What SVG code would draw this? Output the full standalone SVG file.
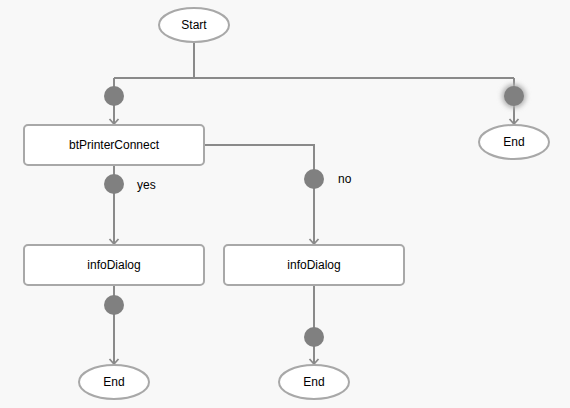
<svg xmlns="http://www.w3.org/2000/svg" width="570" height="408" viewBox="0 0 570 408">
<style>
.edge{fill:none;stroke:#8a8a8a;stroke-width:2}
.box{fill:#fff;stroke:#a8a8a8;stroke-width:2}
.dot{fill:#808080}
text{font-family:"Liberation Sans",Arial,sans-serif;font-size:12px;fill:#000}
.c{text-anchor:middle;dominant-baseline:central}
</style>
<defs>
<marker id="arr" markerWidth="12" markerHeight="12" refX="10" refY="6" orient="auto" markerUnits="userSpaceOnUse">
<path d="M5,1.5 L10,6 L5,10.5" fill="none" stroke="#8a8a8a" stroke-width="1.8"/>
</marker>
<filter id="glow" x="-1" y="-1" width="3" height="3">
<feGaussianBlur stdDeviation="2.5"/>
</filter>
</defs>
<rect width="570" height="408" fill="#f8f8f8"/>
<g id="connectors">
<path class="edge" d="M194,43 V78 M114,78 H514"/>
<path class="edge" d="M114,78 V124" marker-end="url(#arr)"/>
<path class="edge" d="M514,78 V124" marker-end="url(#arr)"/>
<path class="edge" d="M114,165 V244" marker-end="url(#arr)"/>
<path class="edge" d="M204,145 H314 V244" marker-end="url(#arr)"/>
<path class="edge" d="M114,285 V364" marker-end="url(#arr)"/>
<path class="edge" d="M314,285 V364" marker-end="url(#arr)"/>
<circle class="dot" cx="114" cy="96" r="10"/>
<circle cx="514" cy="96" r="12" fill="#b0b0b0" filter="url(#glow)"/>
<circle class="dot" cx="514" cy="96" r="10"/>
<circle class="dot" cx="114" cy="184" r="10"/>
<circle class="dot" cx="314" cy="179" r="10"/>
<circle class="dot" cx="114" cy="305" r="10"/>
<circle class="dot" cx="314" cy="337" r="10"/>
<text x="137" y="185" class="" dominant-baseline="central">yes</text>
<text x="338" y="179" dominant-baseline="central">no</text>
</g>
<g id="start">
<ellipse class="box" cx="194" cy="25" rx="35" ry="17"/>
<text class="c" x="194" y="25">Start</text>
</g>
<g id="btPrinterConnect">
<rect class="box" x="24" y="125" width="180" height="40" rx="4"/>
<text class="c" x="114" y="145">btPrinterConnect</text>
</g>
<g id="end1">
<ellipse class="box" cx="514" cy="142" rx="35" ry="17"/>
<text class="c" x="514" y="142">End</text>
</g>
<g id="infoDialog1">
<rect class="box" x="24" y="245" width="180" height="40" rx="4"/>
<text class="c" x="114" y="265">infoDialog</text>
</g>
<g id="infoDialog2">
<rect class="box" x="224" y="245" width="180" height="40" rx="4"/>
<text class="c" x="314" y="265">infoDialog</text>
</g>
<g id="end2">
<ellipse class="box" cx="114" cy="382" rx="35" ry="17"/>
<text class="c" x="114" y="382">End</text>
</g>
<g id="end3">
<ellipse class="box" cx="314" cy="382" rx="35" ry="17"/>
<text class="c" x="314" y="382">End</text>
</g>
</svg>
